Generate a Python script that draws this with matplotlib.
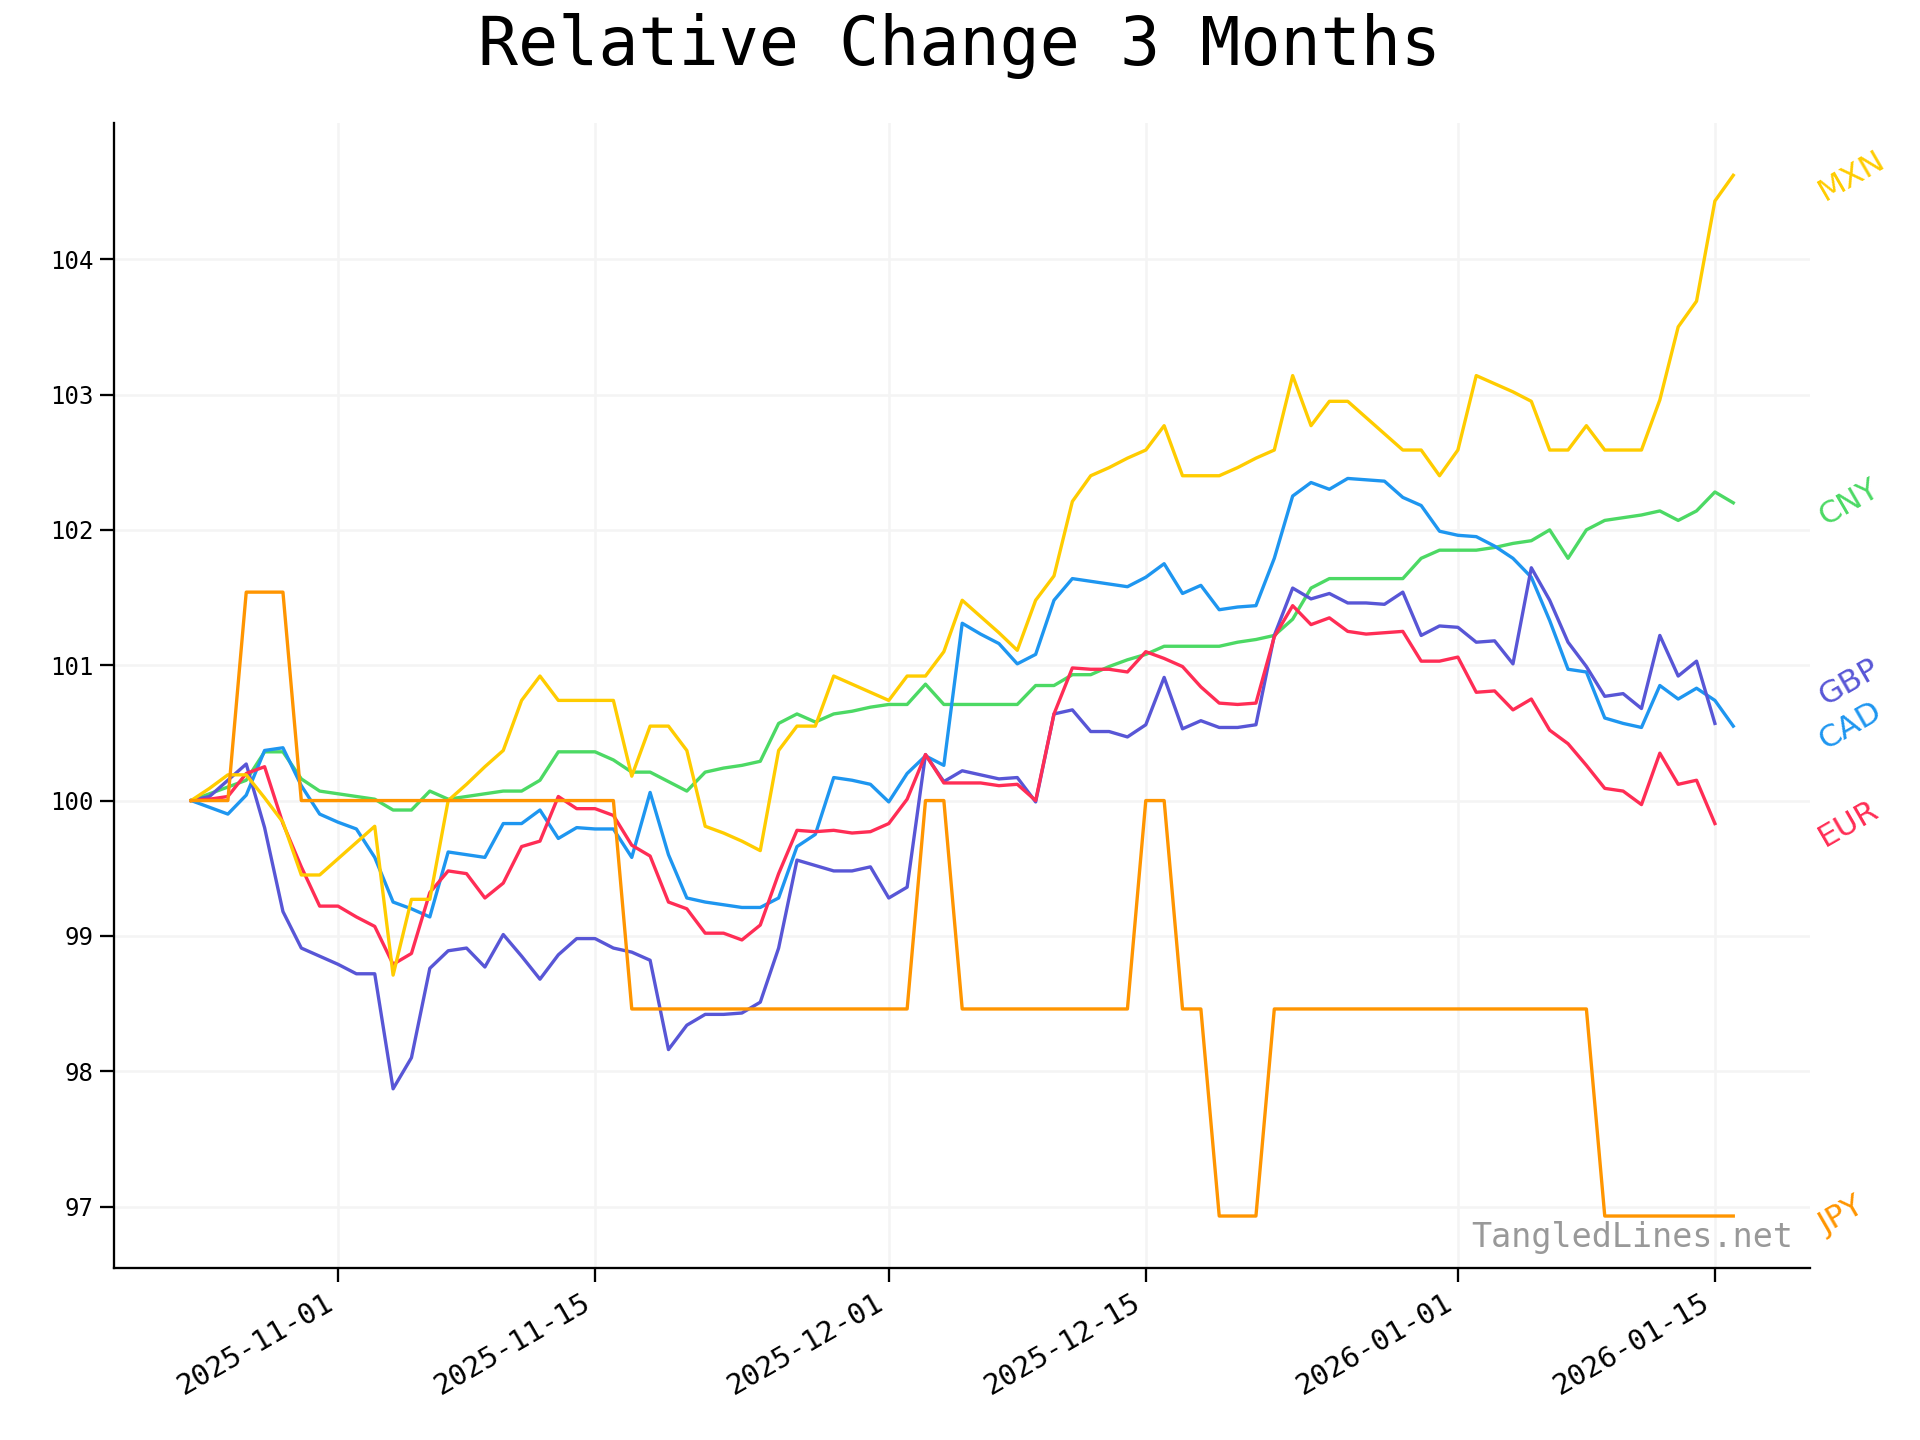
import pandas as pd
import matplotlib
matplotlib.use("Agg")
from matplotlib import pyplot as plt
import matplotlib.dates as mdates

# daily observations, 2025-10-24 .. 2026-01-16
dates = pd.date_range("2025-10-24", "2026-01-16", freq="D")

mxn = [100.0, 100.09, 100.19, 100.19, 100.02, 99.84, 99.45, 99.45, 99.57, 99.69, 99.81, 98.71, 99.27, 99.27,
       100.0, 100.12, 100.25, 100.37, 100.74, 100.92, 100.74, 100.74,
       100.74, 100.74, 100.18, 100.55, 100.55, 100.37, 99.81, 99.76, 99.70, 99.63, 100.37, 100.55, 100.55,
       100.92, 100.86, 100.80, 100.74, 100.92, 100.92, 101.10, 101.48,
       101.36, 101.24, 101.11, 101.48, 101.66, 102.21, 102.40, 102.46, 102.53, 102.59, 102.77, 102.40, 102.40,
       102.40, 102.46, 102.53, 102.59, 103.14, 102.77, 102.95, 102.95,
       102.83, 102.71, 102.59, 102.59, 102.40, 102.59, 103.14, 103.08, 103.02, 102.95, 102.59, 102.59, 102.77,
       102.59, 102.59, 102.59, 102.96, 103.50, 103.69, 104.43, 104.62]

cny = [100.0, 100.05, 100.10, 100.15, 100.36, 100.36, 100.16, 100.07, 100.05, 100.03, 100.01, 99.93, 99.93,
       100.07, 100.01, 100.03, 100.05, 100.07, 100.07, 100.15, 100.36, 100.36,
       100.36, 100.30, 100.21, 100.21, 100.14, 100.07, 100.21, 100.24, 100.26, 100.29, 100.57, 100.64, 100.58,
       100.64, 100.66, 100.69, 100.71, 100.71, 100.86, 100.71, 100.71,
       100.71, 100.71, 100.71, 100.85, 100.85, 100.93, 100.93, 100.99, 101.04, 101.08, 101.14, 101.14, 101.14,
       101.14, 101.17, 101.19, 101.22, 101.34, 101.57, 101.64, 101.64,
       101.64, 101.64, 101.64, 101.79, 101.85, 101.85, 101.85, 101.87, 101.90, 101.92, 102.0, 101.79, 102.0,
       102.07, 102.09, 102.11, 102.14, 102.07, 102.14, 102.28, 102.20]

cad = [100.0, 99.95, 99.90, 100.04, 100.37, 100.39, 100.11, 99.90, 99.84, 99.79, 99.58, 99.25, 99.20, 99.14,
       99.62, 99.60, 99.58, 99.83, 99.83, 99.93, 99.72, 99.80,
       99.79, 99.79, 99.58, 100.06, 99.60, 99.28, 99.25, 99.23, 99.21, 99.21, 99.28, 99.66, 99.75,
       100.17, 100.15, 100.12, 99.99, 100.20, 100.33, 100.26, 101.31,
       101.23, 101.16, 101.01, 101.08, 101.48, 101.64, 101.62, 101.60, 101.58, 101.65, 101.75, 101.53, 101.59,
       101.41, 101.43, 101.44, 101.79, 102.25, 102.35, 102.30, 102.38,
       102.37, 102.36, 102.24, 102.18, 101.99, 101.96, 101.95, 101.88, 101.79, 101.65, 101.33, 100.97, 100.95,
       100.61, 100.57, 100.54, 100.85, 100.75, 100.83, 100.74, 100.55]

# GBP and EUR stop one day earlier
gbp = [100.0, 100.03, 100.15, 100.27, 99.80, 99.18, 98.91, 98.85, 98.79, 98.72, 98.72, 97.87, 98.10, 98.76,
       98.89, 98.91, 98.77, 99.01, 98.85, 98.68, 98.86, 98.98,
       98.98, 98.91, 98.88, 98.82, 98.16, 98.34, 98.42, 98.42, 98.43, 98.51, 98.91, 99.56, 99.52,
       99.48, 99.48, 99.51, 99.28, 99.36, 100.34, 100.14, 100.22,
       100.19, 100.16, 100.17, 99.99, 100.64, 100.67, 100.51, 100.51, 100.47, 100.56, 100.91, 100.53, 100.59,
       100.54, 100.54, 100.56, 101.22, 101.57, 101.49, 101.53, 101.46,
       101.46, 101.45, 101.54, 101.22, 101.29, 101.28, 101.17, 101.18, 101.01, 101.72, 101.48, 101.17, 100.99,
       100.77, 100.79, 100.68, 101.22, 100.92, 101.03, 100.57]

eur = [100.0, 100.01, 100.03, 100.20, 100.25, 99.83, 99.51, 99.22, 99.22, 99.14, 99.07, 98.79, 98.87, 99.32,
       99.48, 99.46, 99.28, 99.39, 99.66, 99.70, 100.03, 99.94,
       99.94, 99.89, 99.67, 99.59, 99.25, 99.20, 99.02, 99.02, 98.97, 99.08, 99.46, 99.78, 99.77,
       99.78, 99.76, 99.77, 99.83, 100.01, 100.34, 100.13, 100.13,
       100.13, 100.11, 100.12, 100.0, 100.64, 100.98, 100.97, 100.97, 100.95, 101.10, 101.05, 100.99, 100.84,
       100.72, 100.71, 100.72, 101.21, 101.44, 101.30, 101.35, 101.25,
       101.23, 101.24, 101.25, 101.03, 101.03, 101.06, 100.80, 100.81, 100.67, 100.75, 100.52, 100.42, 100.26,
       100.09, 100.07, 99.97, 100.35, 100.12, 100.15, 99.83]

jpy = [100.0, 100.0, 100.0, 101.54, 101.54, 101.54] + [100.0] * 18 + [98.46] * 16 + [100.0, 100.0] \
      + [98.46] * 10 + [100.0, 100.0, 98.46, 98.46, 96.93, 96.93, 96.93] + [98.46] * 18 + [96.93] * 8

series = ["MXN", "CNY", "GBP", "CAD", "EUR", "JPY"]
values = {"MXN": mxn, "CNY": cny, "GBP": gbp, "CAD": cad, "EUR": eur, "JPY": jpy}
colors = {"MXN": "#FFCC00", "CNY": "#4CD964", "GBP": "#5856D6",
          "CAD": "#1E96F0", "EUR": "#FF2D55", "JPY": "#FF9500"}
# GBP label pushed up so it does not sit on CAD
label_nudge = {"GBP": 0.3}

mono = "DejaVu Sans Mono"

fig = plt.figure(figsize=(12.8, 9.6), dpi=150)
ax = fig.add_axes([0.0594, 0.1194, 0.8835, 0.795])

for name in ["CNY", "CAD", "GBP", "EUR", "MXN", "JPY"]:
    y = values[name]
    ax.plot(dates[:len(y)], y, color=colors[name], lw=1.6)

for name in series:
    y = values[name]
    ax.text(1.002, y[-1] + label_nudge.get(name, 0), name, transform=ax.get_yaxis_transform(),
            color=colors[name], fontsize=15, rotation=30, ha="left", va="center",
            family="DejaVu Sans")

ax.set_yticks([97, 98, 99, 100, 101, 102, 103, 104])
ax.xaxis.set_major_locator(mdates.DayLocator(bymonthday=[1, 15]))
ax.xaxis.set_major_formatter(mdates.DateFormatter("%Y-%m-%d"))
for lab in ax.get_yticklabels():
    lab.set_family(mono)
    lab.set_fontsize(11.5)
for lab in ax.get_xticklabels():
    lab.set_family(mono)
    lab.set_fontsize(14)
    lab.set_rotation(30)
    lab.set_ha("right")

ax.grid(True, color="#F4F4F4", lw=1.2)
ax.set_axisbelow(True)
ax.spines["top"].set_visible(False)
ax.spines["right"].set_visible(False)
ax.spines["left"].set_linewidth(1.1)
ax.spines["bottom"].set_linewidth(1.1)
ax.tick_params(length=6.5, width=1.1)

ax.text(0.99, 0.012, "TangledLines.net", transform=ax.transAxes, ha="right", va="bottom",
        family=mono, fontsize=16, color="#999999")

fig.text(0.5, 0.968, "Relative Change 3 Months", ha="center", va="center",
         family=mono, fontsize=32)

fig.savefig("out.png", dpi=150)
